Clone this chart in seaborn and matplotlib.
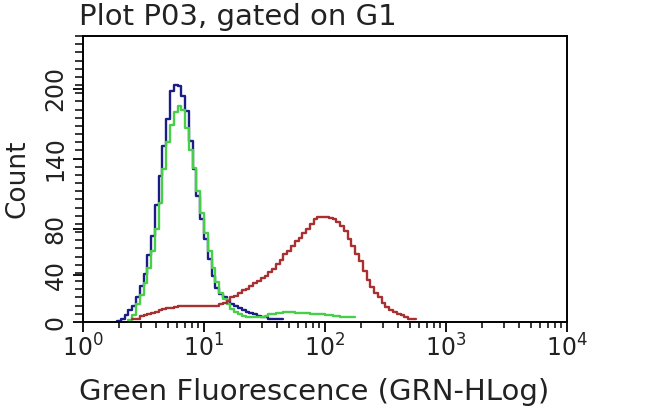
import numpy as np
import pandas as pd
import matplotlib
matplotlib.use("Agg")
import matplotlib.pyplot as plt
import matplotlib.ticker as mticker
import seaborn as sns

# ---- data: step histograms on 32 log-bins per decade (bin k spans 10^(k/32) .. 10^((k+1)/32))
bins_per_decade = 32

blue_start = 9
blue_counts = [1, 3, 6, 10, 14, 21, 31, 41, 57, 74, 100, 125, 151, 174, 198, 203, 202,
               194, 181, 155, 131, 108, 88, 71, 54, 39, 29, 24, 21, 18, 15, 14, 12, 10,
               9, 8, 7, 5, 4, 4, 3, 3, 3, 3]

green_start = 12
green_counts = [2, 6, 15, 23, 33, 46, 61, 80, 102, 131, 154, 169, 180, 185, 182, 166, 147,
                132, 112, 93, 76, 61, 46, 34, 25, 20, 15, 11, 9, 7, 5, 4, 4, 4, 4, 4, 5,
                7, 7, 8, 8, 9, 9, 9, 8, 8, 8, 8, 7, 7, 7, 7, 6, 6, 5, 5, 4, 4, 4, 4]

red_start = 13
red_counts = [3, 3, 5, 6, 7, 8, 9, 10, 11, 12, 12, 13, 14, 14, 14, 14, 14, 14, 14, 14, 14,
              14, 14, 15, 16, 18, 21, 22, 25, 27, 28, 31, 33, 35, 38, 39, 43, 45, 50, 53,
              58, 61, 65, 69, 72, 76, 80, 84, 88, 90, 90, 90, 89, 88, 86, 82, 78, 71, 65,
              58, 52, 44, 36, 30, 25, 21, 16, 13, 10, 9, 7, 6, 4, 3, 3]

series = [("blue", blue_start, blue_counts, "#1c1c86"),
          ("green", green_start, green_counts, "#48cf48"),
          ("red", red_start, red_counts, "#a83030")]

x_ticks = [1, 10, 100, 1000, 10000]
y_ticks = [0, 40, 80, 140, 200]
y_tick_labels = ["0", "40", "80", "140", "200"]

title = "Plot P03, gated on G1"
xlabel = "Green Fluorescence (GRN-HLog)"
ylabel = "Count"

# ---- figure
sns.set_theme(style="white")
plt.rcParams["font.family"] = ["DejaVu Sans"]

fig = plt.figure(figsize=(6.5, 4.17), dpi=100)
ax = fig.add_axes([0.1277, 0.2278, 0.7446, 0.6859])

for name, start, counts, color in series:
    k = np.arange(start, start + len(counts) + 1)
    edges = 10 ** (k / bins_per_decade)
    yv = np.append(counts, counts[-1])
    df = pd.DataFrame({"x": edges, "y": yv})
    sns.lineplot(data=df, x="x", y="y", ax=ax, color=color, linewidth=1.7,
                 drawstyle="steps-post", estimator=None, sort=False)

ax.set_xscale("log")
ax.set_xlim(1, 10000)
ax.set_ylim(0, 245)

ax.xaxis.set_major_locator(mticker.FixedLocator(x_ticks))
ax.xaxis.set_major_formatter(mticker.LogFormatterMathtext())
ax.xaxis.set_minor_locator(mticker.LogLocator(base=10, subs=np.arange(2, 10)))
ax.xaxis.set_minor_formatter(mticker.NullFormatter())

ax.yaxis.set_major_locator(mticker.FixedLocator(y_ticks))
ax.set_yticklabels(y_tick_labels, rotation=90, va="center")
ax.yaxis.set_minor_locator(mticker.MultipleLocator(7))

ax.tick_params(axis="both", which="both", direction="out", color="black",
               bottom=True, left=True, top=False, right=False)
ax.tick_params(axis="x", which="major", length=7, width=1.3, labelsize=17, pad=2,
               labelcolor="#222222")
ax.tick_params(axis="x", which="minor", length=4, width=1.1)
ax.tick_params(axis="y", which="major", length=7, width=1.3, labelsize=17, pad=4,
               labelcolor="#222222")
ax.tick_params(axis="y", which="minor", length=6, width=1.1)

for sp in ax.spines.values():
    sp.set_visible(True)
    sp.set_color("black")
    sp.set_linewidth(1.4)

ax.set_xlabel(xlabel, fontsize=21, loc="left", color="#222222")
ax.xaxis.set_label_coords(-0.008, -0.195)
ax.set_ylabel(ylabel, fontsize=19, color="#222222")
ax.yaxis.set_label_coords(-0.108, 0.5)
fig.text(0.121, 0.940, title, fontsize=21, ha="left", va="baseline", color="#222222")

fig.savefig("out.png", dpi=100, facecolor="white")
